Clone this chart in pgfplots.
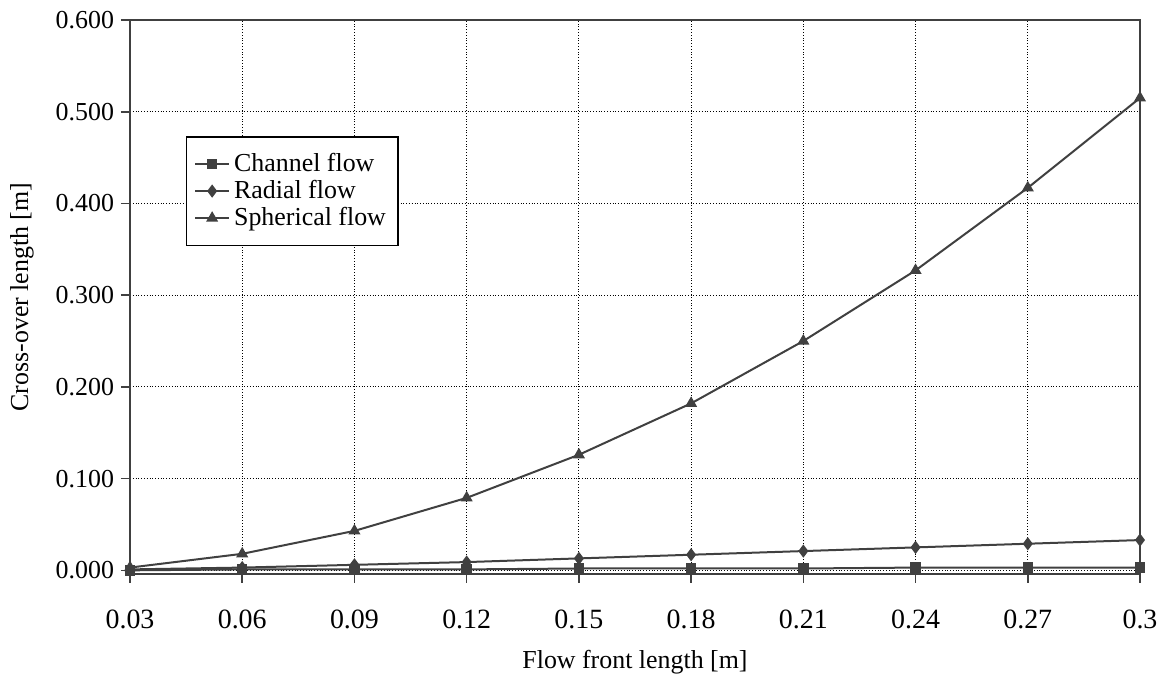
\documentclass[border=0pt]{standalone}
\usepackage{fontspec}
\setmainfont{Liberation Serif}
\usepackage{pgfplots}
\pgfplotsset{compat=1.18}
\definecolor{ln}{HTML}{404040}
\begin{document}
\fontsize{13}{15}\selectfont
\begin{tikzpicture}
\path[use as bounding box] (0,0) rectangle (585bp,338.5bp);
\begin{axis}[
  at={(65bp,51.5bp)}, anchor=south west,
  scale only axis, width=505bp, height=277bp,
  xmin=0.03, xmax=0.3, ymin=-0.004, ymax=0.6,
  xtick={0.03,0.06,0.09,0.12,0.15,0.18,0.21,0.24,0.27,0.3},
  xticklabels={0.03,0.06,0.09,0.12,0.15,0.18,0.21,0.24,0.27,0.3},
  ytick={0,0.1,0.2,0.3,0.4,0.5,0.6},
  xtick pos=bottom, ytick pos=left,
  yticklabel style={xshift=1bp, /pgf/number format/fixed, /pgf/number format/fixed zerofill, /pgf/number format/precision=3, /pgf/number format/assume math mode=true},
  xticklabel style={yshift=-9bp, font=\fontsize{14}{16}\selectfont},
  scaled y ticks=false,
  tick align=outside, major tick length=4.5bp,
  tick style={ln, line width=0.8bp},
  axis line style={ln, line width=1bp},
  grid=major,
  grid style={black, densely dotted, line width=0.6bp},
  xlabel={Flow front length [m]},
  ylabel={Cross-over length [m]},
  xlabel style={at={(axis description cs:0.5,-0.159)}, anchor=center},
  ylabel style={at={(axis description cs:-0.107,0.5)}, anchor=center},
  legend style={at={(axis description cs:0.055,0.79)}, anchor=north west,
    draw=black, line width=0.6bp, fill=white, inner xsep=4bp, inner ysep=6bp, row sep=-1.5bp,
    font=\fontsize{13}{15}\selectfont},
  legend cell align=left,
]
\addplot[ln, line width=1bp, mark=square*, mark size=2.1bp, mark options={fill=ln, solid}] coordinates {
(0.03,0.000) (0.06,0.001) (0.09,0.001) (0.12,0.001) (0.15,0.002)
(0.18,0.002) (0.21,0.002) (0.24,0.003) (0.27,0.003) (0.30,0.003)};
\addlegendentry{Channel flow}
\addplot[ln, line width=1bp, mark=diamond*, mark size=2.5bp, mark options={fill=ln, solid}] coordinates {
(0.03,0.001) (0.06,0.003) (0.09,0.006) (0.12,0.009) (0.15,0.013)
(0.18,0.017) (0.21,0.021) (0.24,0.025) (0.27,0.029) (0.30,0.033)};
\addlegendentry{Radial flow}
\addplot[ln, line width=1bp, mark=triangle*, mark size=2.5bp, mark options={fill=ln, solid}] coordinates {
(0.03,0.003) (0.06,0.018) (0.09,0.043) (0.12,0.079) (0.15,0.126)
(0.18,0.182) (0.21,0.250) (0.24,0.327) (0.27,0.417) (0.30,0.515)};
\addlegendentry{Spherical flow}
\end{axis}
\end{tikzpicture}
\end{document}
